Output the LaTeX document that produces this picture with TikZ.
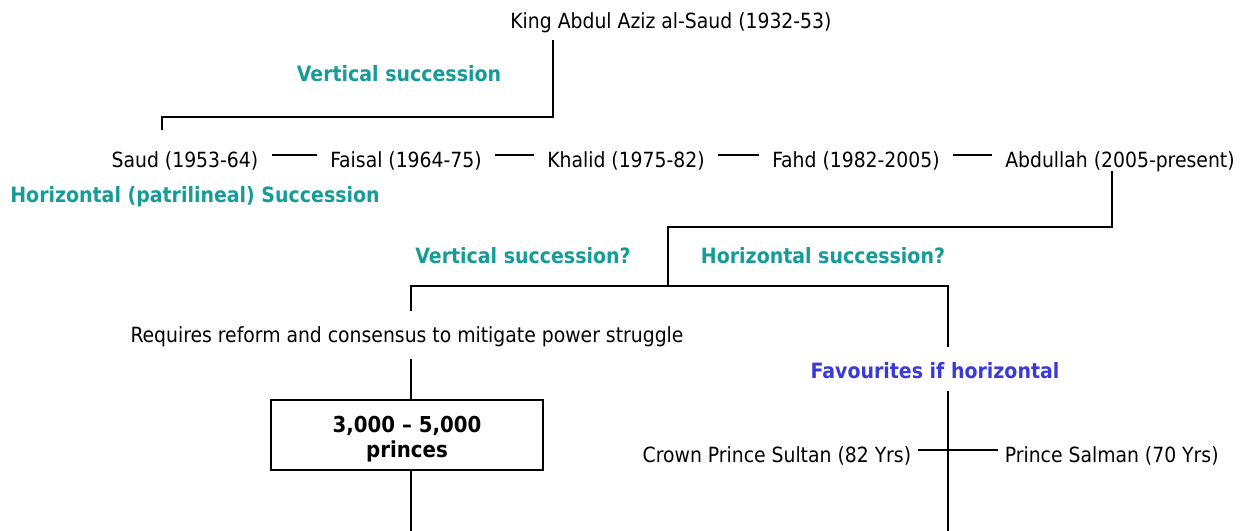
\documentclass[tikz,border=0pt]{standalone}
\usepackage{fontspec}
\setmainfont{DejaVu Sans Condensed}
\usepackage{xcolor}
\usetikzlibrary{positioning}
\definecolor{succteal}{RGB}{22,156,152}
\definecolor{favblue}{RGB}{58,58,214}
\tikzset{
  font=\fontsize{11.9}{14}\selectfont,           % body text
  ruler/.style    = {inner ysep=0pt, inner xsep=0.26cm, anchor=base},
  heir/.style     = {inner ysep=0pt, inner xsep=0.13cm, anchor=base},
  heading/.style  = {font=\fontsize{12}{14}\selectfont\bfseries,
                     text=succteal, inner sep=0pt, anchor=base},
  favhead/.style  = {heading, text=favblue},
  countbox/.style = {draw, line width=1.3pt, minimum width=5.44cm,
                     minimum height=1.4cm, align=center,
                     font=\fontsize{12.5}{14.2}\selectfont\bfseries},
  link/.style     = {line width=1.3pt}
}

\begin{document}
\begin{tikzpicture}[x=0.02cm, y=-0.02cm]
  \useasboundingbox (0,0) rectangle (1242,531);
  % founder
  \node[anchor=base, inner sep=0pt] (king) at (671,28) {King Abdul Aziz al-Saud (1932-53)};
  \node[heading] (vert) at (399,81) {Vertical succession};
  % the sons
  \node[ruler] (saud)     at (185,167)  {Saud (1953-64)};
  \node[ruler] (faisal)   at (406,167)  {Faisal (1964-75)};
  \node[ruler] (khalid)   at (626,167)  {Khalid (1975-82)};
  \node[ruler] (fahd)     at (856,167)  {Fahd (1982-2005)};
  \node[ruler] (abdullah) at (1120,167) {Abdullah (2005-present)};
  \node[heading, anchor=base west] (horiz) at (10,202) {Horizontal (patrilineal) Succession};
  % the question
  \node[heading] (vertq)  at (523,263) {Vertical succession?};
  \node[heading] (horizq) at (823,263) {Horizontal succession?};
  \node[anchor=base, inner sep=0pt] (reform) at (407,342) {Requires reform and consensus to mitigate power struggle};
  \node[countbox] (princes) at (407,435) {\rule{0pt}{0.5cm}3,000 -- 5,000\\princes};
  \node[favhead] (fav) at (935,378) {Favourites if horizontal};
  \node[heir, anchor=base east] (sultan) at (918,462) {Crown Prince Sultan (82 Yrs)};
  \node[heir, anchor=base west] (salman) at (998,462) {Prince Salman (70 Yrs)};

  \coordinate (kingfoot) at (553,40);
  \coordinate (kingbar)  at (162,117);
  \coordinate (saudtop)  at (162,130);
  \coordinate (abdfoot)  at (1112,171);
  \coordinate (fork)     at (668,227);
  \coordinate (forkfoot) at (668,286);
  \coordinate (barL)     at (411,286);
  \coordinate (barR)     at (948,286);
  \coordinate (reqtop)   at (411,311);
  \coordinate (reqfoot)  at (411,359);
  \coordinate (favtop)   at (948,347);
  \coordinate (favfoot)  at (948,391);
  \coordinate (endL)     at (411,531);
  \coordinate (endR)     at (948,531);

  \draw[link] (kingfoot) |- (kingbar) -- (saudtop);
  \draw[link] ([yshift=0.24cm]saud.base east)   -- ([yshift=0.24cm]faisal.base west);
  \draw[link] ([yshift=0.24cm]faisal.base east) -- ([yshift=0.24cm]khalid.base west);
  \draw[link] ([yshift=0.24cm]khalid.base east) -- ([yshift=0.24cm]fahd.base west);
  \draw[link] ([yshift=0.24cm]fahd.base east)   -- ([yshift=0.24cm]abdullah.base west);
  \draw[link] (abdfoot) |- (fork) -- (forkfoot);
  \draw[link] (reqtop) -- (barL) -- (barR) -- (favtop);
  \draw[link] (reqfoot) -- (reqfoot |- princes.north);
  \draw[link] (reqfoot |- princes.south) -- (endL);
  \draw[link] (favfoot) -- (endR);
  \draw[link] ([yshift=0.24cm]sultan.base east) -- ([yshift=0.24cm]salman.base west);
\end{tikzpicture}
\end{document}
